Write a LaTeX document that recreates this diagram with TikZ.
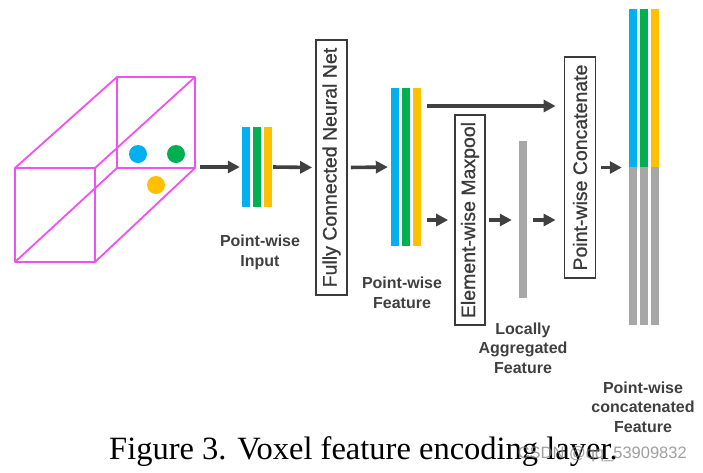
\documentclass[tikz,border=0pt]{standalone}
\usepackage{fontspec}
\setmainfont{Liberation Sans}
\newfontfamily\capfont{Liberation Serif}
\newfontfamily\boxfont[FakeBold=0.8]{Liberation Sans}
\usetikzlibrary{arrows.meta}
\definecolor{cblue}{HTML}{00B0F0}
\definecolor{cgreen}{HTML}{00B050}
\definecolor{cyellow}{HTML}{FFC000}
\definecolor{cgray}{HTML}{A6A7A6}
\definecolor{cmag}{HTML}{F250F2}
\definecolor{arrowgray}{HTML}{404040}
\definecolor{boxgray}{HTML}{3A3A3A}
\definecolor{labelgray}{HTML}{404040}
\begin{document}
\begin{tikzpicture}[x=1pt,y=-1pt,
  bar/.style={fill=#1, draw=none, inner sep=0pt, minimum width=8pt},
  arr/.style={draw=arrowgray, line width=3.6pt, -{Triangle[length=12pt,width=12pt]}},
  box/.style={draw=boxgray, line width=1.8pt, inner sep=0pt, fill=white, text=boxgray,
              font=\boxfont\fontsize{19.5}{20}\selectfont},
  lbl/.style={font=\fontsize{16}{19.5}\selectfont\bfseries, text=labelgray, align=center, inner sep=0pt},
  cube/.style={draw=cmag, line width=1.8pt, line join=round},
  dot/.style={circle, fill=#1, draw=none, minimum size=18pt, inner sep=0pt}]
\fill[white] (0,0) rectangle (703,472);
\useasboundingbox (0,0) rectangle (703,472);

% voxel cube
\draw[cube] (117,77) rectangle (195,168);
\draw[cube] (15,168) -- (117,77) (95,168) -- (195,77) (95,262) -- (195,168) (15,262) -- (117,168);
\draw[cube] (15,168) rectangle (95,262);
\node[dot=cblue] (dotB) at (138,154) {};
\node[dot=cgreen] (dotG) at (176,154) {};
\node[dot=cyellow] (dotY) at (156,185) {};
\coordinate (cubeR) at (195,167);

% rows
\coordinate (toprow) at (0,106);
\coordinate (lowrow) at (0,220);

% point-wise input
\node[bar=cblue, minimum height=80pt] (inB) at (246,167) {};
\node[bar=cgreen, minimum height=80pt] (inG) at (257,167) {};
\node[bar=cyellow, minimum height=80pt] (inY) at (268,167) {};
\node[lbl] (inL) at (260,252.5) {Point-wise\\Input};

% fully connected
\node[box, minimum width=31pt, minimum height=255pt] (fc) at (331.5,167.5) {\rotatebox{90}{Fully Connected Neural Net}};

% point-wise feature
\node[bar=cblue, minimum height=158pt] (ftB) at (395,167) {};
\node[bar=cgreen, minimum height=158pt] (ftG) at (406,167) {};
\node[bar=cyellow, minimum height=158pt] (ftY) at (417,167) {};
\node[lbl] (ftL) at (402,293) {Point-wise\\Feature};

% maxpool
\node[box, minimum width=30pt, minimum height=210pt] (mp) at (470,220) {\rotatebox{90}{Element-wise Maxpool}};

% locally aggregated
\node[bar=cgray, minimum height=157pt] (agg) at (523,219.5) {};
\node[lbl] (aggL) at (523,348) {Locally\\Aggregated\\Feature};

% concatenate
\node[box, minimum width=31pt, minimum height=221pt] (cc) at (580,167.5) {\rotatebox{90}{Point-wise Concatenate}};

% output
\node[bar=cblue, minimum height=158pt] (outB) at (633,88) {};
\node[bar=cgreen, minimum height=158pt] (outG) at (644,88) {};
\node[bar=cyellow, minimum height=158pt] (outY) at (655,88) {};
\node[bar=cgray, minimum height=158pt] (outBg) at (633,246) {};
\node[bar=cgray, minimum height=158pt] (outGg) at (644,246) {};
\node[bar=cgray, minimum height=158pt] (outYg) at (655,246) {};
\node[lbl] (outL) at (643,407) {Point-wise\\concatenated\\Feature};

% connectors
\draw[arr, shorten <=5pt, shorten >=2pt] (cubeR) -- (inB.west);
\draw[arr, shorten <=1pt, shorten >=3pt] (inY.east) -- (fc.west);
\draw[arr, shorten <=3pt, shorten >=3pt] (fc.east) -- (ftB.west);
\draw[arr, shorten <=6pt, shorten >=8pt] (ftY.east |- toprow) -- (cc.west |- toprow);
\draw[arr, shorten <=6pt, shorten >=6pt] (ftY.east |- lowrow) -- (mp.west);
\draw[arr, shorten <=3pt, shorten >=7pt] (mp.east) -- (mp.east -| agg.west);
\draw[arr, shorten <=6pt, shorten >=8pt] (mp.east -| agg.east) -- (mp.east -| cc.west);
\draw[arr, shorten <=5pt, shorten >=7pt] (cc.east) -- (cc.east -| outB.west);

% caption
\node[anchor=base west, inner sep=0pt, font=\capfont\fontsize{32.5}{33}\selectfont] (cap) at (109,459) {Figure 3. Voxel feature encoding layer.};
\node[anchor=base east, inner sep=0pt, text=gray, opacity=0.75, font=\fontsize{16.5}{17}\selectfont] (wm) at (687,458) {CSDN @qq\_53909832};
\end{tikzpicture}
\end{document}
